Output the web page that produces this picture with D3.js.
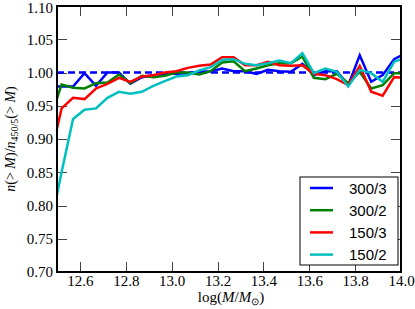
<!DOCTYPE html>
<html>
<head>
<meta charset="utf-8">
<script src="https://cdn.jsdelivr.net/npm/d3@7"></script>
<style>
  body { margin: 0; background: #fff; }
  svg { display: block; }
  .axis text { font-family: "Liberation Serif", serif; font-size: 15px; fill: #000; }
  .axis line { stroke: #444; stroke-width: 1; shape-rendering: crispEdges; }
  .axis path.domain { display: none; }
  .line { fill: none; stroke-width: 2.5px; stroke-linejoin: miter; }
  .legend text { font-family: "Liberation Sans", sans-serif; font-size: 15px; fill: #000; }
  .label { font-family: "Liberation Serif", serif; fill: #000; }
</style>
</head>
<body>
<div id="chart"></div>
<script>
// bin centres, log(M/Msun); first and last fall just outside the axes and get clipped
const logM = [12.47, 12.52, 12.57, 12.62, 12.67, 12.72, 12.77, 12.82, 12.87, 12.92, 12.97,
  13.02, 13.07, 13.12, 13.17, 13.22, 13.27, 13.32, 13.37, 13.42, 13.47,
  13.52, 13.57, 13.62, 13.67, 13.72, 13.77, 13.82, 13.87, 13.92, 13.97, 14.02];

const ratio300_3 = [0.979, 0.979, 0.979, 0.999, 0.980, 1.000, 1.000, 0.983, 0.993, 0.996, 0.998,
  0.998, 0.999, 1.001, 1.002, 1.006, 1.002, 1.002, 0.998, 1.004, 1.002,
  1.001, 1.013, 0.996, 1.002, 1.002, 0.981, 1.026, 0.986, 0.996, 1.020, 1.029];
const ratio300_2 = [0.929, 0.982, 0.977, 0.976, 0.984, 0.985, 0.997, 0.984, 0.995, 0.993, 0.995,
  1.000, 1.000, 0.997, 1.002, 1.015, 1.017, 1.002, 1.006, 1.011, 1.014,
  1.014, 1.024, 0.992, 0.990, 0.998, 0.984, 1.001, 0.976, 0.981, 0.999, 0.999];
const ratio150_3 = [0.871, 0.946, 0.962, 0.960, 0.976, 0.983, 0.992, 0.986, 0.994, 0.996, 1.000,
  1.002, 1.007, 1.010, 1.012, 1.023, 1.023, 1.011, 1.011, 1.016, 1.011,
  1.010, 1.011, 0.998, 0.996, 0.990, 0.981, 1.010, 0.971, 0.965, 0.993, 0.992];
const ratio150_2 = [0.766, 0.850, 0.930, 0.944, 0.946, 0.962, 0.971, 0.968, 0.971, 0.980, 0.987,
  0.994, 0.996, 1.003, 1.008, 1.019, 1.020, 1.013, 1.011, 1.014, 1.018,
  1.014, 1.029, 0.999, 1.006, 1.001, 0.979, 1.004, 0.999, 0.986, 1.016, 1.022];

const seriesNames = ['300/3', '300/2', '150/3', '150/2'];
const seriesColors = ['#0000ff', '#008000', '#ff0000', '#00bfbf'];
const seriesValues = [ratio300_3, ratio300_2, ratio150_3, ratio150_2];

const xTicks = [12.6, 12.8, 13.0, 13.2, 13.4, 13.6, 13.8, 14.0];
const yTicks = [0.70, 0.75, 0.80, 0.85, 0.90, 0.95, 1.00, 1.05, 1.10];
const refLevel = 1.0;

const W = 415, H = 309;
const margin = { top: 6, right: 14, bottom: 37, left: 57 };
const width = W - margin.left - margin.right;
const height = H - margin.top - margin.bottom;

function translation(x, y) {
  return 'translate(' + x + ',' + y + ')';
}

const svg = d3.select('#chart').append('svg')
  .attr('width', W)
  .attr('height', H);

const g = svg.append('g').attr('transform', translation(margin.left, margin.top));

const xScale = d3.scaleLinear().domain([12.5, 14.0]).range([0, width]);
const yScale = d3.scaleLinear().domain([0.70, 1.10]).range([height, 0]);

g.append('clipPath').attr('id', 'plotclip')
  .append('rect').attr('width', width).attr('height', height);

// ticks point inwards on all four sides
g.append('g').attr('class', 'axis y')
  .call(d3.axisLeft(yScale).tickValues(yTicks).tickSize(-10).tickPadding(4)
    .tickFormat(d3.format('.2f')))
  .selectAll('text')
  .attr('dy', (d, i) => i === yTicks.length - 1 ? '0.42em' : '0.32em'); // keep top label inside the page
g.append('g').attr('class', 'axis y right')
  .attr('transform', translation(width, 0))
  .call(d3.axisRight(yScale).tickValues(yTicks).tickSize(-10).tickFormat(''));
g.append('g').attr('class', 'axis x')
  .attr('transform', translation(0, height))
  .call(d3.axisBottom(xScale).tickValues(xTicks).tickSize(-10).tickPadding(3)
    .tickFormat(d3.format('.1f')));
g.append('g').attr('class', 'axis x top')
  .call(d3.axisTop(xScale).tickValues(xTicks).tickSize(-10).tickFormat(''));

const plot = g.append('g').attr('clip-path', 'url(#plotclip)');

// reference line
plot.append('line')
  .attr('x1', 0).attr('x2', width)
  .attr('y1', yScale(refLevel)).attr('y2', yScale(refLevel))
  .attr('stroke', '#0000ff')
  .attr('stroke-width', 2.5)
  .attr('stroke-dasharray', '7,4');

const line = d3.line()
  .x((d, i) => xScale(logM[i]))
  .y(d => yScale(d));

seriesValues.forEach((vals, s) => {
  plot.append('path')
    .attr('class', 'line')
    .attr('stroke', seriesColors[s])
    .attr('d', line(vals));
});

// frame
g.append('rect')
  .attr('width', width).attr('height', height)
  .attr('fill', 'none')
  .attr('stroke', '#000')
  .attr('stroke-width', 2);

// legend
const legend = g.append('g').attr('class', 'legend')
  .attr('transform', translation(243, 171));
legend.append('rect')
  .attr('width', 98).attr('height', 88)
  .attr('fill', '#fff')
  .attr('stroke', '#000')
  .attr('stroke-width', 1);
seriesNames.forEach((name, i) => {
  const row = legend.append('g').attr('transform', translation(0, 11 + i * 22.2));
  row.append('line')
    .attr('x1', 10).attr('x2', 33)
    .attr('stroke', seriesColors[i])
    .attr('stroke-width', 2.5);
  row.append('text')
    .attr('x', 49).attr('y', 5.5)
    .text(name);
});

// axis labels
const xl = svg.append('text').attr('class', 'label')
  .attr('font-size', '15px')
  .attr('x', margin.left + width / 2 + 2).attr('y', 302)
  .attr('text-anchor', 'middle');
xl.append('tspan').text('log(');
xl.append('tspan').attr('font-style', 'italic').text('M');
xl.append('tspan').text('/');
xl.append('tspan').attr('font-style', 'italic').text('M');
xl.append('tspan').attr('font-size', '10px').attr('dy', 3).text('\u2299');
xl.append('tspan').attr('dy', -3).text(')');

const yl = svg.append('text').attr('class', 'label')
  .attr('font-size', '14px')
  .attr('transform', translation(15, margin.top + height / 2) + ' rotate(-90)')
  .attr('text-anchor', 'middle');
yl.append('tspan').attr('font-style', 'italic').text('n');
yl.append('tspan').text('(> ');
yl.append('tspan').attr('font-style', 'italic').text('M');
yl.append('tspan').text(')/');
yl.append('tspan').attr('font-style', 'italic').text('n');
yl.append('tspan').attr('font-size', '10px').attr('dy', 3).text('450/5');
yl.append('tspan').attr('dy', -3).text('(> ');
yl.append('tspan').attr('font-style', 'italic').text('M');
yl.append('tspan').text(')');
</script>
</body>
</html>
